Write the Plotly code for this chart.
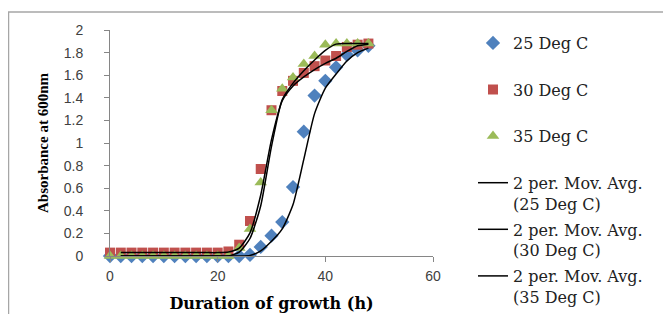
import plotly.graph_objects as go

hours = [0, 2, 4, 6, 8, 10, 12, 14, 16, 18, 20, 22, 24, 26, 28, 30, 32, 34, 36, 38, 40, 42, 44, 46, 48]
abs_25 = [0.00, 0.00, 0.00, 0.00, 0.00, 0.00, 0.00, 0.00, 0.00, 0.00, 0.00, 0.00,
          0.00, 0.01, 0.08, 0.18, 0.30, 0.61, 1.10, 1.42, 1.55, 1.67, 1.78, 1.82, 1.86]
abs_30 = [0.03, 0.03, 0.03, 0.03, 0.03, 0.03, 0.03, 0.03, 0.03, 0.03, 0.03, 0.04,
          0.10, 0.31, 0.77, 1.29, 1.46, 1.55, 1.62, 1.68, 1.73, 1.77, 1.85, 1.87, 1.88]
abs_35 = [0.00, 0.00, 0.00, 0.00, 0.00, 0.00, 0.00, 0.00, 0.00, 0.00, 0.00, 0.00,
          0.07, 0.24, 0.65, 1.29, 1.48, 1.58, 1.70, 1.77, 1.87, 1.88, 1.88, 1.88, 1.88]

series_names = ["25 Deg C", "30 Deg C", "35 Deg C"]
series_vals = [abs_25, abs_30, abs_35]
colors = ["#4F81BD", "#C0504D", "#9BBB59"]
symbols = ["diamond", "square", "triangle-up"]
sizes = [11, 10, 11]
x_ticks = [0, 20, 40, 60]
y_ticks = [0, 0.2, 0.4, 0.6, 0.8, 1, 1.2, 1.4, 1.6, 1.8, 2]

# page has an 8px body margin; figure sized to fit inside the 671x322 window
OFF = 8
W, H = 671 - 2 * OFF, 322 - 2 * OFF
ML = 110 - OFF
MT = 30 - OFF
MR = W - (433 - OFF)
MB = H - (256 - OFF)
PW, PH = W - ML - MR, H - MT - MB


def px_x(p):
    return (p - OFF - ML) / PW


def px_y(p):
    return (H - MB - (p - OFF)) / PH


fig = go.Figure()
for i, (name, vals) in enumerate(zip(series_names, series_vals)):
    fig.add_trace(go.Scatter(
        x=hours, y=vals, mode="markers", name=name + "<br>\u00a0",
        legendgroup="g%d" % i,
        marker=dict(symbol=symbols[i], color=colors[i], size=sizes[i]),
        cliponaxis=False,
    ))


def moving_avg(xs, ys):
    return xs[1:], [(ys[k] + ys[k - 1]) / 2 for k in range(1, len(ys))]


for i, (name, vals) in enumerate(zip(series_names, series_vals)):
    mx, my = moving_avg(hours, vals)
    fig.add_trace(go.Scatter(
        x=mx, y=my, mode="lines", name="2 per. Mov. Avg.<br>(%s)" % name,
        legendgroup="m%d" % i,
        line=dict(color="black", width=1.5, shape="spline", smoothing=0.6),
        cliponaxis=False,
    ))

tickfont = dict(family="Liberation Sans", size=14, color="#404040")
fig.update_layout(
    width=W, height=H,
    margin=dict(l=ML, r=MR, t=MT, b=MB, autoexpand=False),
    paper_bgcolor="white", plot_bgcolor="white",
    showlegend=True,
    legend=dict(
        x=px_x(473), y=px_y(26), xanchor="left", yanchor="top",
        valign="top", tracegroupgap=2, maxheight=400,
        font=dict(family="DejaVu Serif", size=16, color="#222222"),
        bgcolor="rgba(0,0,0,0)",
    ),
    xaxis=dict(
        range=[0, 60], tickvals=x_ticks, ticks="outside", ticklen=5, tickcolor="#868686",
        showline=True, linecolor="#868686", linewidth=1, showgrid=False, zeroline=False,
        tickfont=tickfont, ticklabelstandoff=2,
        title=dict(text="<b>Duration of growth (h)</b>", standoff=15,
                   font=dict(family="DejaVu Serif", size=16, color="black")),
    ),
    yaxis=dict(
        range=[0, 2], tickvals=y_ticks, ticktext=[("%g" % v) for v in y_ticks],
        ticks="outside", ticklen=5, tickcolor="#868686",
        showline=True, linecolor="#868686", linewidth=1, showgrid=False, zeroline=False,
        tickfont=tickfont, ticklabelstandoff=18,
        title=dict(text="<b>Absorbance at 600nm</b>", standoff=11,
                   font=dict(family="Liberation Serif", size=15, color="black")),
    ),
    shapes=[dict(type="rect", xref="paper", yref="paper",
                 x0=px_x(8.5), x1=px_x(700),
                 y0=px_y(340), y1=px_y(12),
                 line=dict(color="#A6A6A6", width=1.5), fillcolor="rgba(0,0,0,0)", layer="below")],
)

fig.write_html("out.html")
